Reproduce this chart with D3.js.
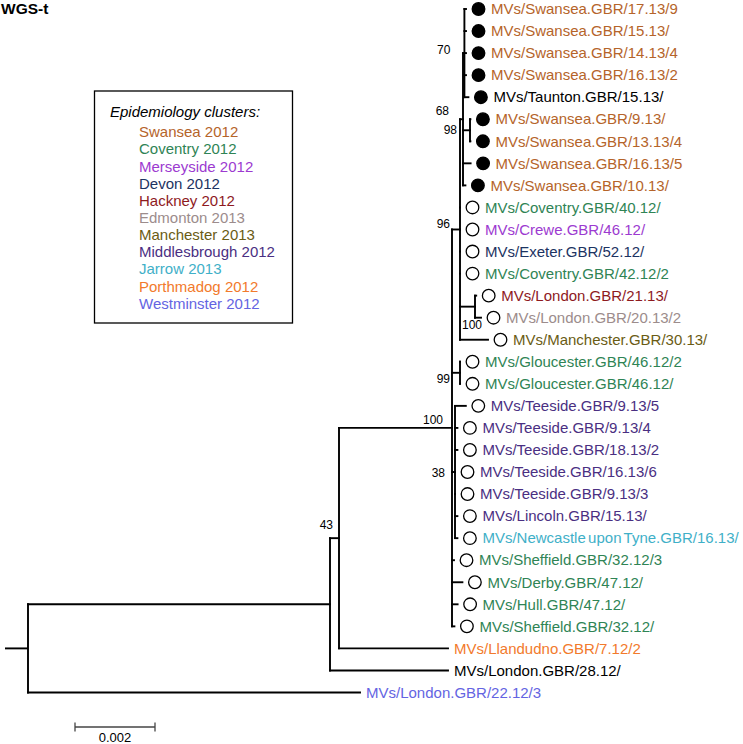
<!DOCTYPE html>
<html>
<head>
<meta charset="utf-8">
<script src="https://cdn.jsdelivr.net/npm/d3@7"></script>
<style>
html,body{margin:0;padding:0;background:#fff;}
svg{display:block;font-family:"Liberation Sans",Arial,sans-serif;}
</style>
</head>
<body>
<svg id="chart" width="743" height="744"></svg>
<script>
// ---------------- DATA ----------------
const clusterNames = ["Swansea 2012","Coventry 2012","Merseyside 2012","Devon 2012","Hackney 2012",
  "Edmonton 2013","Manchester 2013","Middlesbrough 2012","Jarrow 2013","Porthmadog 2012","Westminster 2012"];
const clusterColors = ["#b5642a","#2f8455","#9c3ad0","#1c3362","#8e1a1e","#9c8c8c","#6a5c14","#4a2f82","#3fb0c8","#f27a2c","#6464e2"];

// tree nodes (order of children = top-to-bottom order)
const nodeIds = ["root","A","B","C","D","G","F",
  "Sw17_9","Sw15","Sw14_4","Sw16_2","Taunton",
  "H","Sw9","Sw13_4","Sw16_5","Sw10",
  "Cov40","Crewe","Exeter","Cov42",
  "J","Lon21","Lon20","Manc",
  "K","Glo2","Glo",
  "Lnode","Tee9_5","Tee9_4","Tee18_2","Tee16_6","Tee9_3","Lincoln","Newcastle",
  "Sheff3","Derby","Hull","Sheff",
  "Llan","L28","L22"];
const nodeParents = ["","root","A","B","C","D","G",
  "F","F","F","F","F",
  "G","H","H","G","G",
  "D","D","D","D",
  "D","J","J","D",
  "C","K","K",
  "C","Lnode","Lnode","Lnode","Lnode","Lnode","Lnode","Lnode",
  "C","C","C","C",
  "B","A","root"];
// branch lengths (substitutions / site)
const branchLengths = [0.000575,0.00755,0.000225,0.002825,0.0002,0.000075,0.000035,
  0.00004,0.00004,0.00004,0.00004,0.0001,
  0.000175,0.00001,0.00001,0.00019,0.00006,
  0,0,0,0,
  0.000375,0.00003,0.00015,0.0007,
  0.0002,0,0,
  0.000075,0.00027,0.00006,0.00006,0,0,0.00006,0.00006,
  0.00005,0.00026,0.00014,0.00006,
  0.002725,0.00295,0.0083];
// bootstrap support for internal nodes
const supportNodes = ["F","G","H","D","J","K","Lnode","C","B"];
const supportValues = [70,68,98,96,100,99,38,100,43];

// leaves
const leafIds = ["Sw17_9","Sw15","Sw14_4","Sw16_2","Taunton","Sw9","Sw13_4","Sw16_5","Sw10",
  "Cov40","Crewe","Exeter","Cov42","Lon21","Lon20","Manc","Glo2","Glo",
  "Tee9_5","Tee9_4","Tee18_2","Tee16_6","Tee9_3","Lincoln","Newcastle",
  "Sheff3","Derby","Hull","Sheff","Llan","L28","L22"];
const leafLabels = ["MVs/Swansea.GBR/17.13/9","MVs/Swansea.GBR/15.13/","MVs/Swansea.GBR/14.13/4","MVs/Swansea.GBR/16.13/2",
  "MVs/Taunton.GBR/15.13/","MVs/Swansea.GBR/9.13/","MVs/Swansea.GBR/13.13/4","MVs/Swansea.GBR/16.13/5","MVs/Swansea.GBR/10.13/",
  "MVs/Coventry.GBR/40.12/","MVs/Crewe.GBR/46.12/","MVs/Exeter.GBR/52.12/","MVs/Coventry.GBR/42.12/2",
  "MVs/London.GBR/21.13/","MVs/London.GBR/20.13/2","MVs/Manchester.GBR/30.13/",
  "MVs/Gloucester.GBR/46.12/2","MVs/Gloucester.GBR/46.12/",
  "MVs/Teeside.GBR/9.13/5","MVs/Teeside.GBR/9.13/4","MVs/Teeside.GBR/18.13/2","MVs/Teeside.GBR/16.13/6",
  "MVs/Teeside.GBR/9.13/3","MVs/Lincoln.GBR/15.13/","MVs/Newcastle upon Tyne.GBR/16.13/",
  "MVs/Sheffield.GBR/32.12/3","MVs/Derby.GBR/47.12/","MVs/Hull.GBR/47.12/","MVs/Sheffield.GBR/32.12/",
  "MVs/Llandudno.GBR/7.12/2","MVs/London.GBR/28.12/","MVs/London.GBR/22.12/3"];
// cluster index (-1 = none)
const leafCluster = [0,0,0,0,-1,0,0,0,0, 1,2,3,1,4,5,6,1,1, 7,7,7,7,7,7,8, 1,1,1,1, 9,-1,10];
// marker: 1 = filled circle, 0 = open circle, -1 = none
const leafMarker = [1,1,1,1,1,1,1,1,1, 0,0,0,0,0,0,0,0,0, 0,0,0,0,0,0,0, 0,0,0,0, -1,-1,-1];

const scaleBarValue = 0.002;
const chartTitle = "WGS-t";
const legendTitle = "Epidemiology clusters:";

// ---------------- LAYOUT / STYLE ----------------
const svg = d3.select("#chart");
const x = d3.scaleLinear().domain([0, 0.002]).range([5, 85]);
const y = d3.scaleLinear().domain([0, leafIds.length - 1]).range([9, 692.5]);
// support label nudges [dx of right edge from node x, dy from node y]
const supportNudge = {F:[-14,-3],G:[-14,-8],H:[-13,0],D:[-10,-6],J:[7,18],K:[-10,6],Lnode:[-10,1],C:[-9,-8],B:[-6,-13]};

const table = nodeIds.map((id,i)=>({id, parent: nodeParents[i], len: branchLengths[i]}));
const root = d3.stratify().id(d=>d.id).parentId(d=>d.parent||null)(table);

root.eachBefore(n => { n.dist = (n.parent ? n.parent.dist : 0) + n.data.len; n.px = x(n.dist); });
root.eachAfter(n => {
  if (!n.children) n.py = y(leafIds.indexOf(n.id));
  else n.py = (n.children[0].py + n.children[n.children.length-1].py) / 2;
});

const g = svg.append("g");
const stroke = "#000", sw = 1.9;

g.append("line").attr("x1", x(0)).attr("x2", root.px).attr("y1", root.py).attr("y2", root.py)
  .attr("stroke", stroke).attr("stroke-width", sw);

root.descendants().forEach(n => {
  if (n.parent) {
    g.append("line").attr("x1", n.parent.px).attr("x2", n.px).attr("y1", n.py).attr("y2", n.py)
      .attr("stroke", stroke).attr("stroke-width", sw).attr("stroke-linecap","square");
  }
  if (n.children) {
    g.append("line").attr("x1", n.px).attr("x2", n.px)
      .attr("y1", n.children[0].py).attr("y2", n.children[n.children.length-1].py)
      .attr("stroke", stroke).attr("stroke-width", sw).attr("stroke-linecap","square");
  }
});

supportNodes.forEach((id,i) => {
  const n = root.find(d => d.id === id);
  const nd = supportNudge[id];
  g.append("text").attr("x", n.px + nd[0]).attr("y", n.py + nd[1]).attr("dy","0.35em")
    .attr("text-anchor","end").attr("font-size", 12).attr("fill","#000").text(supportValues[i]);
});

root.leaves().forEach(n => {
  const i = leafIds.indexOf(n.id);
  const col = leafCluster[i] >= 0 ? clusterColors[leafCluster[i]] : "#000";
  let tx = n.px + 6;
  if (leafMarker[i] >= 0) {
    g.append("circle").attr("cx", n.px + 12.5).attr("cy", n.py).attr("r", 6.3)
      .attr("fill", leafMarker[i] === 1 ? "#000" : "#fff").attr("stroke","#000").attr("stroke-width",1.3);
    tx = n.px + 25;
  }
  g.append("text").attr("x", tx).attr("y", n.py).attr("dy","0.35em")
    .attr("font-size", 15).attr("word-spacing", "-1.8px").attr("fill", col).text(leafLabels[i]);
});

svg.append("text").attr("x", 1).attr("y", 13.5).attr("font-size", 15.5).attr("font-weight","bold")
  .attr("fill","#000").text(chartTitle);

const lg = svg.append("g");
lg.append("rect").attr("x", 94.5).attr("y", 91).attr("width", 198).attr("height", 232)
  .attr("fill","none").attr("stroke","#000").attr("stroke-width",1.3);
lg.append("text").attr("x", 110).attr("y", 112).attr("dy","0.35em").attr("font-size",15)
  .attr("font-style","italic").attr("fill","#000").text(legendTitle);
const ly = d3.scaleLinear().domain([0, clusterNames.length-1]).range([132, 303.5]);
clusterNames.forEach((name,i) => {
  lg.append("text").attr("x", 139).attr("y", ly(i)).attr("dy","0.35em").attr("font-size",15)
    .attr("fill", clusterColors[i]).text(name);
});

const sbX0 = 75, sbY = 727;
const sbLen = x(scaleBarValue) - x(0);
const sb = svg.append("g").attr("stroke","#444").attr("stroke-width",1.3);
sb.append("line").attr("x1", sbX0).attr("x2", sbX0 + sbLen).attr("y1", sbY).attr("y2", sbY);
sb.append("line").attr("x1", sbX0).attr("x2", sbX0).attr("y1", sbY-4.5).attr("y2", sbY+4.5);
sb.append("line").attr("x1", sbX0+sbLen).attr("x2", sbX0+sbLen).attr("y1", sbY-4.5).attr("y2", sbY+4.5);
svg.append("text").attr("x", sbX0 + sbLen/2).attr("y", 737.5).attr("dy","0.35em").attr("text-anchor","middle")
  .attr("font-size",13).attr("fill","#000").text(d3.format(".3f")(scaleBarValue));
</script>
</body>
</html>
